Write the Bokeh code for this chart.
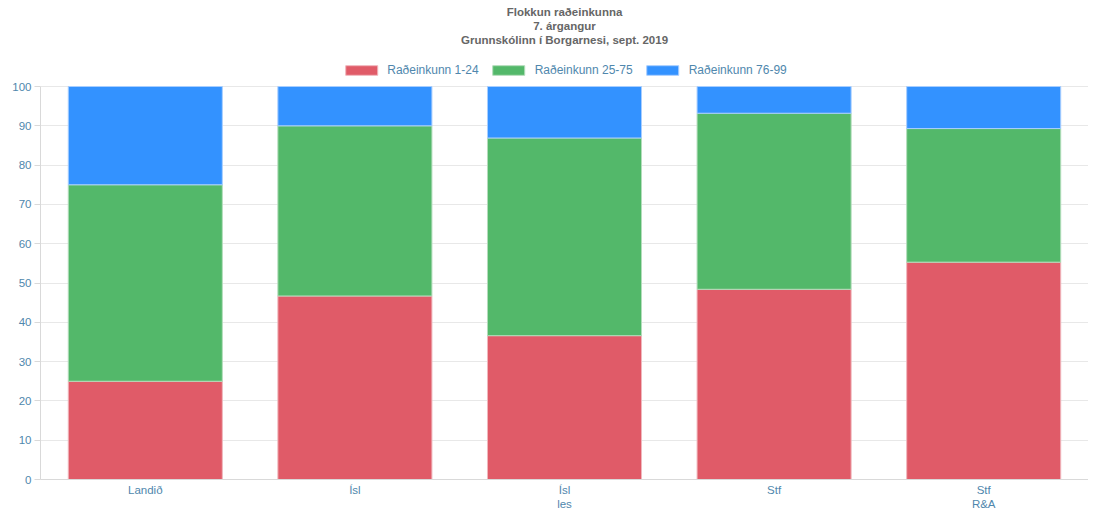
from bokeh.plotting import figure
from bokeh.models import ColumnDataSource, Legend, LegendItem, Title, FactorRange, FixedTicker
from bokeh.embed import file_html
from bokeh.resources import INLINE

categories = ["Landið", "Ísl", "Ísl\nles", "Stf", "Stf\nR&A"]
series_names = ["Raðeinkunn 1-24", "Raðeinkunn 25-75", "Raðeinkunn 76-99"]
low = [25.0, 46.7, 36.6, 48.4, 55.3]
mid = [50.0, 43.3, 50.3, 44.8, 34.0]
high = [25.0, 10.0, 13.1, 6.8, 10.7]
y_ticks = [0, 10, 20, 30, 40, 50, 60, 70, 80, 90, 100]
title_lines = ["Flokkun raðeinkunna", "7. árgangur", "Grunnskólinn í Borgarnesi, sept. 2019"]

colors = ["#e05b68", "#53b86a", "#3392ff"]
border_colors = ["#f0b7bd", "#b3ddbb", "#a8ceff"]
tick_color = "#4f87ad"
font = "Liberation Sans"

FRAME_H = 434
TOP_GAP = 41  # px between frame top and the 100 line (room for legend)
y_end = 100.0 * FRAME_H / (FRAME_H - TOP_GAP)

source = ColumnDataSource(dict(cat=categories, low=low, mid=mid, high=high))

p = figure(x_range=FactorRange(factors=categories, range_padding=0), y_range=(0, y_end),
           frame_width=1048, frame_height=FRAME_H, output_backend="svg", toolbar_location=None,
           min_border_left=40, min_border_right=0, min_border_top=45, min_border_bottom=0)
p.title.visible = False

renderers = p.vbar_stack(["low", "mid", "high"], x="cat", width=0.735, source=source,
                         fill_color=colors, line_color=border_colors, line_width=1, fill_alpha=1.0)

legend = Legend(items=[LegendItem(label=n, renderers=[r]) for n, r in zip(series_names, renderers)],
                orientation="horizontal", location="top_center",
                glyph_width=40, glyph_height=12, label_text_font=font, label_text_font_size="12px",
                label_text_color=tick_color, border_line_color=None, background_fill_alpha=0,
                spacing=10, padding=0, margin=18, label_standoff=6)
p.add_layout(legend)

for i, line in enumerate(reversed(title_lines)):
    t = Title(text=line, align="center", text_font=font, text_font_size="11.5px",
              text_font_style="bold", text_color="#666666", standoff=0, offset=0)
    p.add_layout(t, "above")

p.xgrid.visible = False
p.ygrid.grid_line_color = "#e8e8e8"
p.yaxis.ticker = FixedTicker(ticks=y_ticks)
p.yaxis.bounds = (0, 100)
for ax in (p.xaxis, p.yaxis):
    ax.axis_line_color = "#d9d9d9"
    ax.major_tick_line_color = "#d9d9d9"
    ax.minor_tick_line_color = None
    ax.major_label_text_color = tick_color
    ax.major_label_text_font = font
    ax.major_label_text_font_size = "11.5px"
p.yaxis.major_tick_in = 0
p.yaxis.major_tick_out = 6
p.yaxis.major_label_standoff = 3
p.xaxis.major_tick_line_color = None
p.xaxis.major_tick_out = 0
p.xaxis.major_label_standoff = 4
p.outline_line_color = None

open("out.html", "w").write(file_html(p, INLINE))
